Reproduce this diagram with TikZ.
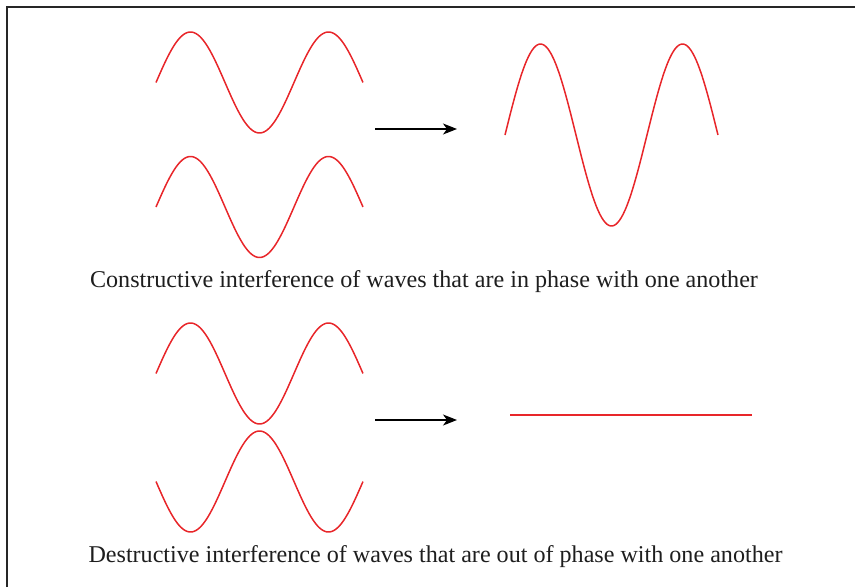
\documentclass[tikz,border=0pt]{standalone}
\usepackage{fontspec}
\setmainfont{Liberation Serif}
\usetikzlibrary{arrows.meta}
\definecolor{wavered}{HTML}{E8262A}
\definecolor{txt}{HTML}{1E1E1E}
\tikzset{
  wave/.style={draw=wavered, line width=1.5pt, line join=round},
  arr/.style={draw=black, line width=1.1pt, -{Stealth[length=14pt,width=11pt,inset=4pt]}},
  caption/.style={text=txt, font=\fontsize{24.1}{28}\selectfont, inner sep=0pt, anchor=base}
}
\begin{document}
\begin{tikzpicture}[x=1pt, y=-1pt]
\useasboundingbox (0,0) rectangle (855,587);
% frame
\draw[line width=2pt, black!85] (7,587) -- (7,7) -- (855,7);
% constructive
\draw[wave] plot[domain=0:1.5, samples=120, smooth] ({156+138*\x}, {82.5-50.5*sin(360*\x)});
\draw[wave] plot[domain=0:1.5, samples=120, smooth] ({156+138*\x}, {207-50.5*sin(360*\x)});
\draw[wave] plot[domain=0:1.5, samples=120, smooth] ({505+142*\x}, {135-91*sin(360*\x)});
\coordinate (a1s) at (375,129);
\coordinate (a1e) at (457,129);
\draw[arr] (a1s) -- (a1e);
\node[caption] (cap1) at (424,287) {Constructive interference of waves that are in phase with one another};
% destructive
\draw[wave] plot[domain=0:1.5, samples=120, smooth] ({156+138*\x}, {373.5-50.5*sin(360*\x)});
\draw[wave] plot[domain=0:1.5, samples=120, smooth] ({156+138*\x}, {481.5+50.5*sin(360*\x)});
\coordinate (a2s) at (375,420);
\coordinate (a2e) at (457,420);
\draw[arr] (a2s) -- (a2e);
\coordinate (f1) at (510,415);
\coordinate (f2) at (752,415);
\draw[wave] (f1) -- (f2);
\node[caption] (cap2) at (435.5,562) {Destructive interference of waves that are out of phase with one another};
\end{tikzpicture}
\end{document}
